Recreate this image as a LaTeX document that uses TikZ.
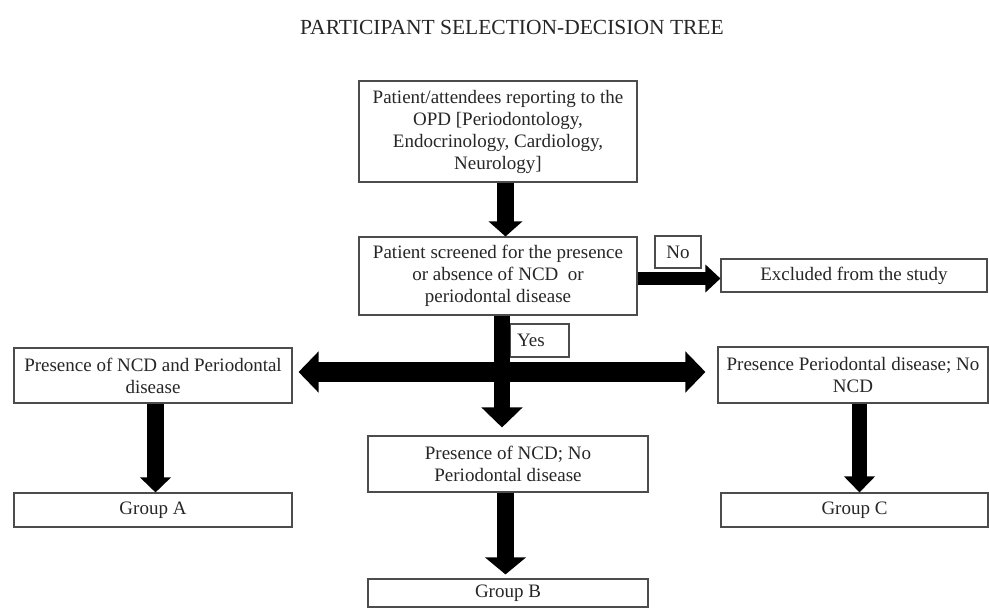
\documentclass[tikz,border=0pt]{standalone}
\usepackage{fontspec}
\setmainfont{Liberation Serif}
\usetikzlibrary{arrows.meta}
\begin{document}
\begin{tikzpicture}[x=1pt, y=-1pt,
    every node/.style = {font=\fontsize{19}{22}\selectfont, text=black!85},
    box/.style = {draw=black!70, line width=1.1pt, align=center, inner sep=0pt},
    blk/.style = {draw=black, line width=#1},
    tip/.style 2 args = {-{Triangle[length=#1, width=#2]}}]
  \useasboundingbox (0,0) rectangle (989,608);

  \node[font=\fontsize{21.5}{25}\selectfont] at (512,27) (title) {PARTICIPANT SELECTION-DECISION TREE};

  \node[box, minimum width=278, minimum height=101] at (498,131.5) (open)
       {Patient/attendees reporting to the\\ OPD [Periodontology,\\ Endocrinology, Cardiology,\\ Neurology]};
  \node[box, minimum width=278, minimum height=78]  at (498,276)   (screen)
       {Patient screened for the presence\\ or absence of NCD\ \ or\\ periodontal disease};
  \node[box, minimum width=46,  minimum height=32]  at (678,252)   (no) {No};
  \node[box, minimum width=266, minimum height=33]  at (854,275.5) (excluded) {Excluded from the study};
  \node[box, minimum width=59,  minimum height=33, text width=45, inner xsep=7, align=left]
                                                    at (539.5,340.5) (yes) {Yes};
  \node[box, minimum width=278, minimum height=55]  at (153,375.5) (ncdperio)
       {Presence of NCD and Periodontal\\ disease};
  \node[box, minimum width=270, minimum height=56]  at (853,375)   (perio)
       {Presence Periodontal disease; No\\ NCD};
  \node[box, minimum width=280, minimum height=56]  at (508,464)   (ncd)
       {Presence of NCD; No\\ Periodontal disease};
  \node[box, minimum width=278, minimum height=34]  at (153,510)   (groupA) {Group A};
  \node[box, minimum width=280, minimum height=28]  at (508,593)   (groupB) {Group B};
  \node[box, minimum width=267, minimum height=34]  at (854.5,510) (groupC) {Group C};

  \draw[blk=17pt, tip={15pt}{33pt}] ([xshift=7.5pt]open.south) -- ([xshift=7.5pt]open.south |- screen.north);
  \draw[blk=13pt, tip={15pt}{27pt}] ([yshift=-2.5pt]screen.east) -- ([yshift=-2.5pt]screen.east -| excluded.west);
  \draw[blk=16pt, tip={20pt}{40pt}, shorten >=8pt] ([xshift=4pt]screen.south) -- ([xshift=4pt]screen.south |- ncd.north);
  \draw[blk=20pt, {Triangle[length=20pt, width=40pt]}-{Triangle[length=20pt, width=40pt]},
        shorten <=6pt, shorten >=12pt] ([yshift=3.5pt]ncdperio.east) -- ([yshift=3.5pt]ncdperio.east -| perio.west);
  \draw[blk=17pt, tip={15pt}{30pt}] ([xshift=2.5pt]ncdperio.south) -- ([xshift=2.5pt]ncdperio.south |- groupA.north);
  \draw[blk=17pt, tip={17pt}{40pt}, shorten >=4pt] ([xshift=-2.5pt]ncd.south) -- ([xshift=-2.5pt]ncd.south |- groupB.north);
  \draw[blk=15pt, tip={16pt}{30pt}] ([xshift=6.5pt]perio.south) -- ([xshift=6.5pt]perio.south |- groupC.north);
\end{tikzpicture}
\end{document}
